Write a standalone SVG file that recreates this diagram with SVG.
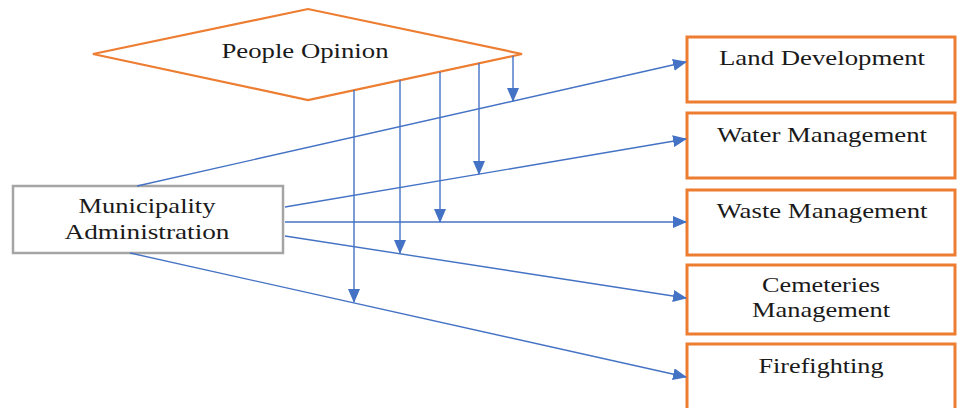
<svg xmlns="http://www.w3.org/2000/svg" width="957" height="408" viewBox="0 0 957 408">
  <style>
    .lbl { font-family: "Liberation Serif", "Times New Roman", serif; font-size: 22px; fill: #1a1a1a; text-anchor: middle; }
    .dept { fill: #ffffff; stroke: #ed7d31; stroke-width: 3; }
    .link { stroke: #4472c4; stroke-width: 1.4; fill: none; marker-end: url(#arrow); }
  </style>
  <defs>
    <marker id="arrow" markerUnits="userSpaceOnUse" markerWidth="14" markerHeight="12" viewBox="0 0 14 12" refX="13" refY="6" orient="auto">
      <path d="M0,0 L14,6 L0,12 Z" fill="#4472c4"/>
    </marker>
  </defs>
  <rect width="957" height="408" fill="#ffffff"/>

  <g id="people-opinion">
    <polygon points="93,54 308,9 522,54 308,100" fill="#ffffff" stroke="#ed7d31" stroke-width="2.2"/>
    <text class="lbl" x="305" y="58" textLength="167" lengthAdjust="spacingAndGlyphs">People Opinion</text>
  </g>

  <g id="municipality-administration">
    <rect x="13" y="186" width="270" height="67" fill="#ffffff" stroke="#a5a5a5" stroke-width="2.5"/>
    <text class="lbl" x="147" y="213" textLength="137" lengthAdjust="spacingAndGlyphs">Municipality</text>
    <text class="lbl" x="147" y="239" textLength="165" lengthAdjust="spacingAndGlyphs">Administration</text>
  </g>

  <g id="land-development">
    <rect class="dept" x="687" y="37" width="268" height="65"/>
    <text class="lbl" x="822" y="65" textLength="206" lengthAdjust="spacingAndGlyphs">Land Development</text>
  </g>

  <g id="water-management">
    <rect class="dept" x="687" y="113" width="268" height="65"/>
    <text class="lbl" x="822" y="142" textLength="210" lengthAdjust="spacingAndGlyphs">Water Management</text>
  </g>

  <g id="waste-management">
    <rect class="dept" x="687" y="190" width="268" height="65"/>
    <text class="lbl" x="822" y="218" textLength="211" lengthAdjust="spacingAndGlyphs">Waste Management</text>
  </g>

  <g id="cemeteries-management">
    <rect class="dept" x="687" y="265" width="268" height="69"/>
    <text class="lbl" x="821" y="292" textLength="118" lengthAdjust="spacingAndGlyphs">Cemeteries</text>
    <text class="lbl" x="821" y="317" textLength="138" lengthAdjust="spacingAndGlyphs">Management</text>
  </g>

  <g id="firefighting">
    <rect class="dept" x="687" y="344" width="268" height="70"/>
    <text class="lbl" x="821" y="373" textLength="125" lengthAdjust="spacingAndGlyphs">Firefighting</text>
  </g>

  <g id="connectors">
    <!-- administration to each department -->
    <line class="link" x1="137" y1="186" x2="686" y2="62"/>
    <line class="link" x1="285" y1="207" x2="686" y2="139"/>
    <line class="link" x1="285" y1="222" x2="686" y2="222"/>
    <line class="link" x1="285" y1="236" x2="686" y2="298"/>
    <line class="link" x1="130" y1="253" x2="686" y2="377"/>
    <!-- opinion feeding into each link -->
    <line class="link" x1="513" y1="56" x2="513" y2="101"/>
    <line class="link" x1="479" y1="63" x2="479" y2="174"/>
    <line class="link" x1="440" y1="72" x2="440" y2="222"/>
    <line class="link" x1="400" y1="80" x2="400" y2="253"/>
    <line class="link" x1="354" y1="90" x2="354" y2="302"/>
  </g>
</svg>
